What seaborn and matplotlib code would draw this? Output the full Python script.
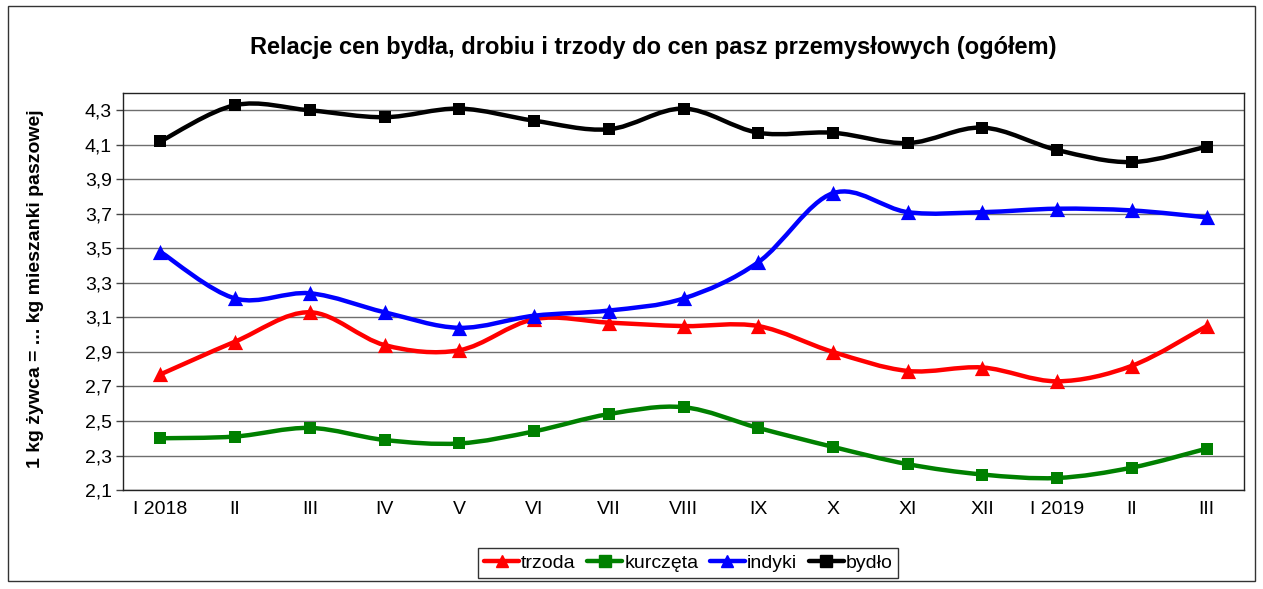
import numpy as np
import pandas as pd
import seaborn as sns
import matplotlib.pyplot as plt
from matplotlib.path import Path
from matplotlib.patches import PathPatch, Rectangle
from matplotlib.lines import Line2D

months = ["I 2018", "II", "III", "IV", "V", "VI", "VII", "VIII",
          "IX", "X", "XI", "XII", "I 2019", "II", "III"]
trzoda = [2.77, 2.96, 3.13, 2.94, 2.91, 3.09, 3.07, 3.05, 3.05, 2.90, 2.79, 2.81, 2.73, 2.82, 3.05]
kurczeta = [2.40, 2.41, 2.46, 2.39, 2.37, 2.44, 2.54, 2.58, 2.46, 2.35, 2.25, 2.19, 2.17, 2.23, 2.34]
indyki = [3.48, 3.21, 3.24, 3.13, 3.04, 3.11, 3.14, 3.21, 3.42, 3.82, 3.71, 3.71, 3.73, 3.72, 3.68]
bydlo = [4.12, 4.33, 4.30, 4.26, 4.31, 4.24, 4.19, 4.31, 4.17, 4.17, 4.11, 4.20, 4.07, 4.00, 4.09]

series = [("trzoda", trzoda, "#ff0000", "^"),
          ("kurczęta", kurczeta, "#008000", "s"),
          ("indyki", indyki, "#0000ff", "^"),
          ("bydło", bydlo, "#000000", "s")]

sns.set_style("white")
plt.rcParams["font.family"] = ["Liberation Sans", "DejaVu Sans"]
plt.rcParams["text.color"] = "black"
plt.rcParams["xtick.color"] = "black"
plt.rcParams["ytick.color"] = "black"

fig = plt.figure(figsize=(12.63, 5.89), dpi=100)
ax = fig.add_axes([0.0974, 0.168, 0.8876, 0.674])


def smooth_path(xs, ys):
    # Excel-like smoothed line: cubic bezier through every point
    pts = np.column_stack([xs, ys])
    n = len(pts)
    verts = [pts[0]]
    codes = [Path.MOVETO]
    for i in range(n - 1):
        p0 = pts[i - 1] if i > 0 else pts[i]
        p3 = pts[i + 2] if i + 2 < n else pts[i + 1]
        c1 = pts[i] + (pts[i + 1] - p0) / 6
        c2 = pts[i + 1] - (p3 - pts[i]) / 6
        verts += [c1, c2, pts[i + 1]]
        codes += [Path.CURVE4] * 3
    return Path(verts, codes)


x = np.arange(len(months))
handles = []
for name, vals, color, marker in series:
    ax.add_patch(PathPatch(smooth_path(x, vals), facecolor="none", edgecolor=color,
                           lw=3.2, zorder=3, capstyle="round", joinstyle="round"))
    df = pd.DataFrame({"x": x, "y": vals})
    size = 120 if marker == "^" else 85
    sns.scatterplot(data=df, x="x", y="y", marker=marker, color=color, s=size,
                    edgecolor=color, linewidth=0, zorder=4, ax=ax)
    handles.append(Line2D([], [], color=color, lw=3.2, marker=marker, markersize=8, label=name))

ax.set_xlim(-0.5, len(months) - 0.5)
ax.set_ylim(2.1, 4.4)
yticks = np.round(np.arange(2.1, 4.31, 0.2), 1)
ax.set_yticks(yticks)
ax.set_yticklabels([f"{t:.1f}".replace(".", ",") for t in yticks], fontsize=14)
ax.set_xticks(x)
ax.set_xticklabels(months, fontsize=14)
ax.set_xticks(np.arange(-0.5, len(months), 1), minor=True)
ax.tick_params(axis="x", which="major", length=0, pad=8)
ax.tick_params(axis="x", which="minor", length=5, width=1, color="#444444", direction="out")
ax.tick_params(axis="y", length=5, width=1, color="#444444", direction="out", pad=3, left=True)
ax.grid(axis="y", color="#6e6e6e", lw=1)
ax.set_axisbelow(True)
for sp in ax.spines.values():
    sp.set_color("#222222")
    sp.set_linewidth(1)
ax.set_xlabel("")
ax.set_ylabel("")
fig.text(0.028, 0.51, "1 kg żywca = ... kg mieszanki paszowej", rotation=90,
         ha="center", va="center", fontsize=14, fontweight="bold")

fig.text(0.517, 0.92, "Relacje cen bydła, drobiu i trzody do cen pasz przemysłowych (ogółem)",
         ha="center", va="center", fontsize=17, fontweight="bold")

leg = fig.legend(handles=handles, loc="center", bbox_to_anchor=(0.545, 0.044), ncol=4,
                 fontsize=14, frameon=True, fancybox=False, handlelength=1.8,
                 handletextpad=0.1, columnspacing=0.6, borderpad=0.3)
leg.get_frame().set_edgecolor("black")
leg.get_frame().set_linewidth(1)

fig.patches.append(Rectangle((0.006, 0.013), 0.988, 0.977, transform=fig.transFigure,
                             fill=False, edgecolor="#333333", lw=1))

fig.savefig("out.png", dpi=100)
